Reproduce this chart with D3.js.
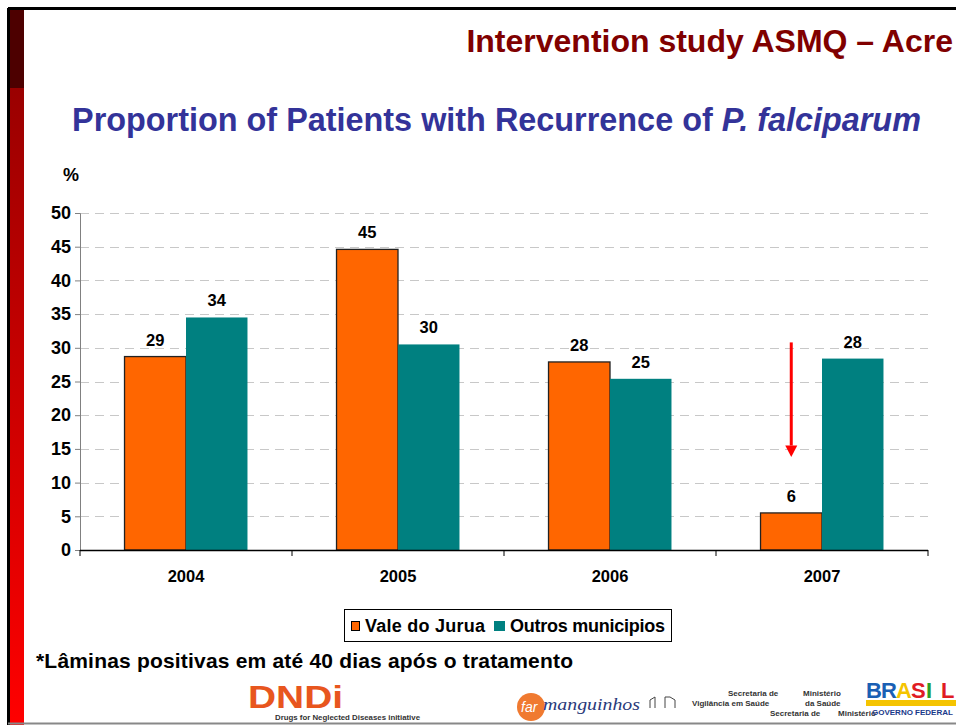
<!DOCTYPE html>
<html><head><meta charset="utf-8">
<script src="https://cdn.jsdelivr.net/npm/d3@7"></script>
<style>body{margin:0;background:#fff;}svg{display:block;font-family:Arial,"Liberation Sans",sans-serif;}</style>
</head><body><svg id="c" width="956" height="725"></svg>
<script>
const years = ["2004","2005","2006","2007"];
const seriesNames = ["Vale do Jurua","Outros municipios"];
const valeDoJurua = [28.7, 44.6, 27.9, 5.5];
const outrosMunicipios = [34.5, 30.5, 25.4, 28.4];
const valeLabels = ["29","45","28","6"];
const outrosLabels = ["34","30","25","28"];
const yTicks = [0,5,10,15,20,25,30,35,40,45,50];
const colors = ["#ff6600","#008080"];

(function(){
const svg = d3.select("#c");
const defs = svg.append("defs");
const g1 = defs.append("linearGradient").attr("id","side").attr("x1",0).attr("y1",0).attr("x2",0).attr("y2",1);
g1.append("stop").attr("offset","0").attr("stop-color","#9a0000");
g1.append("stop").attr("offset","1").attr("stop-color","#ff0000");

// frame + side strip
svg.append("rect").attr("x",10).attr("y",10).attr("width",14).attr("height",78).attr("fill","#4d0000");
svg.append("rect").attr("x",10).attr("y",88).attr("width",14).attr("height",637).attr("fill","url(#side)");
svg.append("line").attr("x1",8).attr("x2",956).attr("y1",8.5).attr("y2",8.5).attr("stroke","#000").attr("stroke-width",3);
svg.append("line").attr("x1",8.5).attr("x2",8.5).attr("y1",8).attr("y2",725).attr("stroke","#000").attr("stroke-width",3);
svg.append("line").attr("x1",8).attr("x2",956).attr("y1",723.5).attr("y2",723.5).attr("stroke","#888").attr("stroke-width",2);

svg.append("text").attr("x",953).attr("y",52).attr("text-anchor","end").attr("font-size",32).attr("font-weight","bold").attr("fill","#800000").text("Intervention study ASMQ – Acre");
const st = svg.append("text").attr("x",496.5).attr("y",131).attr("text-anchor","middle").attr("font-size",32.4).attr("font-weight","bold").attr("fill","#333399");
st.append("tspan").text("Proportion of Patients with Recurrence of ");
st.append("tspan").attr("font-style","italic").text("P. falciparum");

svg.append("text").attr("x",63).attr("y",181).attr("font-size",18).attr("font-weight","bold").text("%");

const pLeft = 80, pRight = 928, pTop = 213, pBottom = 550;
const y = d3.scaleLinear().domain([0,50]).range([pBottom, pTop]);
const x0 = d3.scaleBand().domain(years).range([pLeft,pRight]).paddingInner(0.42).paddingOuter(0.21);
const x1 = d3.scaleBand().domain(seriesNames).range([0,x0.bandwidth()]);

// gridlines
svg.append("g").selectAll("line").data(yTicks.filter(d=>d>0)).join("line")
  .attr("x1",pLeft).attr("x2",pRight).attr("y1",d=>Math.round(y(d))+0.5).attr("y2",d=>Math.round(y(d))+0.5)
  .attr("stroke","#c8c8c8").attr("stroke-dasharray","9,6");

// y axis
const ya = svg.append("g").attr("transform",`translate(${pLeft},0)`)
  .call(d3.axisLeft(y).tickValues(yTicks).tickSize(5).tickPadding(4));
ya.select(".domain").attr("stroke","#808080");
ya.selectAll(".tick line").attr("stroke","#808080");
ya.selectAll("text").attr("font-size",18).attr("font-weight","bold").attr("fill","#000").attr("font-family","Arial, Liberation Sans, sans-serif");

// bars
const data = years.map((yr,i)=>({yr, vals:[valeDoJurua[i], outrosMunicipios[i]], labs:[valeLabels[i], outrosLabels[i]]}));
const grp = svg.append("g").selectAll("g").data(data).join("g").attr("transform",d=>`translate(${x0(d.yr)},0)`);
grp.selectAll("rect").data(d=>d.vals.map((v,j)=>({v,j,s:seriesNames[j]}))).join("rect")
  .attr("x",d=>x1(d.s)).attr("width",x1.bandwidth()).attr("y",d=>y(d.v)).attr("height",d=>y(0)-y(d.v))
  .attr("fill",d=>colors[d.j]).attr("stroke",d=>d.j===0?"#222":"none").attr("stroke-width",1.3);
grp.selectAll("text").data(d=>d.vals.map((v,j)=>({v,j,s:seriesNames[j],l:d.labs[j]}))).join("text")
  .attr("x",d=>x1(d.s)+x1.bandwidth()/2).attr("y",d=>y(d.v)-11).attr("text-anchor","middle")
  .attr("font-size",16.5).attr("font-weight","bold").text(d=>d.l);

// x axis
const xa = svg.append("g").attr("transform",`translate(0,${pBottom})`);
xa.append("line").attr("x1",pLeft).attr("x2",pRight).attr("y1",0.5).attr("y2",0.5).attr("stroke","#000").attr("stroke-width",1.3);
const bounds = years.map(yr=>x0(yr)-x0.step()*0.21).concat([pRight]);
xa.selectAll("line.t").data(bounds).join("line").attr("class","t").attr("x1",d=>d).attr("x2",d=>d).attr("y1",0).attr("y2",6).attr("stroke","#000");
xa.selectAll("text").data(years).join("text").attr("x",d=>x0(d)+x0.bandwidth()/2).attr("y",32).attr("text-anchor","middle")
  .attr("font-size",16.5).attr("font-weight","bold").text(d=>d);

// arrow
const ax = x0("2007")+x1("Vale do Jurua")+x1.bandwidth()/2;
svg.append("line").attr("x1",ax).attr("x2",ax).attr("y1",y(30.8)).attr("y2",y(15.5)).attr("stroke","#ff0000").attr("stroke-width",3);
svg.append("path").attr("d",`M${ax-6},${y(15.5)} L${ax+6},${y(15.5)} L${ax},${y(13.8)} Z`).attr("fill","#ff0000");

// legend
const lg = svg.append("g");
lg.append("rect").attr("x",344.5).attr("y",609.5).attr("width",327).attr("height",32).attr("fill","#fff").attr("stroke","#000");
lg.append("rect").attr("x",351.5).attr("y",621.5).attr("width",8).attr("height",9).attr("fill",colors[0]).attr("stroke","#000");
lg.append("text").attr("x",365).attr("y",632).attr("font-size",18).attr("font-weight","bold").attr("textLength",120).text(seriesNames[0]);
lg.append("rect").attr("x",494.5).attr("y",621.5).attr("width",10).attr("height",9).attr("fill",colors[1]).attr("stroke","#008080");
lg.append("text").attr("x",510).attr("y",632).attr("font-size",18).attr("font-weight","bold").attr("textLength",155).text(seriesNames[1]);

svg.append("text").attr("x",36).attr("y",668).attr("font-size",21).attr("font-weight","bold").attr("textLength",537).text("*Lâminas positivas em até 40 dias após o tratamento");

// footer logos (approximate as text)
svg.append("text").attr("x",248).attr("y",708).attr("font-size",31).attr("font-weight","bold").attr("fill","#e8561e").attr("textLength",95).attr("lengthAdjust","spacingAndGlyphs").text("DNDi");
svg.append("text").attr("x",275).attr("y",720).attr("font-size",6.5).attr("font-weight","bold").attr("fill","#333").attr("textLength",145).attr("lengthAdjust","spacingAndGlyphs").text("Drugs for Neglected Diseases initiative");
svg.append("circle").attr("cx",531).attr("cy",707).attr("r",14).attr("fill","#f07a30");
svg.append("text").attr("x",521).attr("y",712).attr("font-size",14).attr("font-style","italic").attr("fill","#fff").text("far");
svg.append("text").attr("x",543).attr("y",710).attr("font-size",17).attr("font-style","italic").attr("font-family","Liberation Serif, serif").attr("fill","#2a3a7a").attr("textLength",97).attr("lengthAdjust","spacingAndGlyphs").text("manguinhos");
svg.append("path").attr("d","M650,708 L650,700 L655,697 L655,708 M665,708 L665,697 L670,697 L675,700 L675,708").attr("fill","none").attr("stroke","#444");
const foot = [["Secretaria de",728,696],["Vigilância em Saúde",692,706],["Ministério",803,696],["da Saúde",805,706],["Secretaria de",770,716],["Ministério",838,716]];
svg.append("g").selectAll("text").data(foot).join("text").attr("x",d=>d[1]).attr("y",d=>d[2]).attr("font-size",8).attr("font-weight","bold").attr("fill","#333").text(d=>d[0]);
const br = ["B","R","A","S","I","L"], brc=["#1a5fb4","#1a5fb4","#f5c400","#e01b24","#2a9d2a","#e01b24"];
svg.append("g").selectAll("text").data(br).join("text").attr("x",(d,i)=>866+i*15).attr("y",698).attr("font-size",22).attr("font-weight","bold").attr("fill",(d,i)=>brc[i]).text(d=>d);
svg.append("rect").attr("x",866).attr("y",700).attr("width",90).attr("height",6).attr("fill","#f5c400");
svg.append("text").attr("x",872).attr("y",715).attr("font-size",8).attr("font-weight","bold").attr("fill","#1a3a8a").text("GOVERNO FEDERAL");
})();
</script></body></html>
